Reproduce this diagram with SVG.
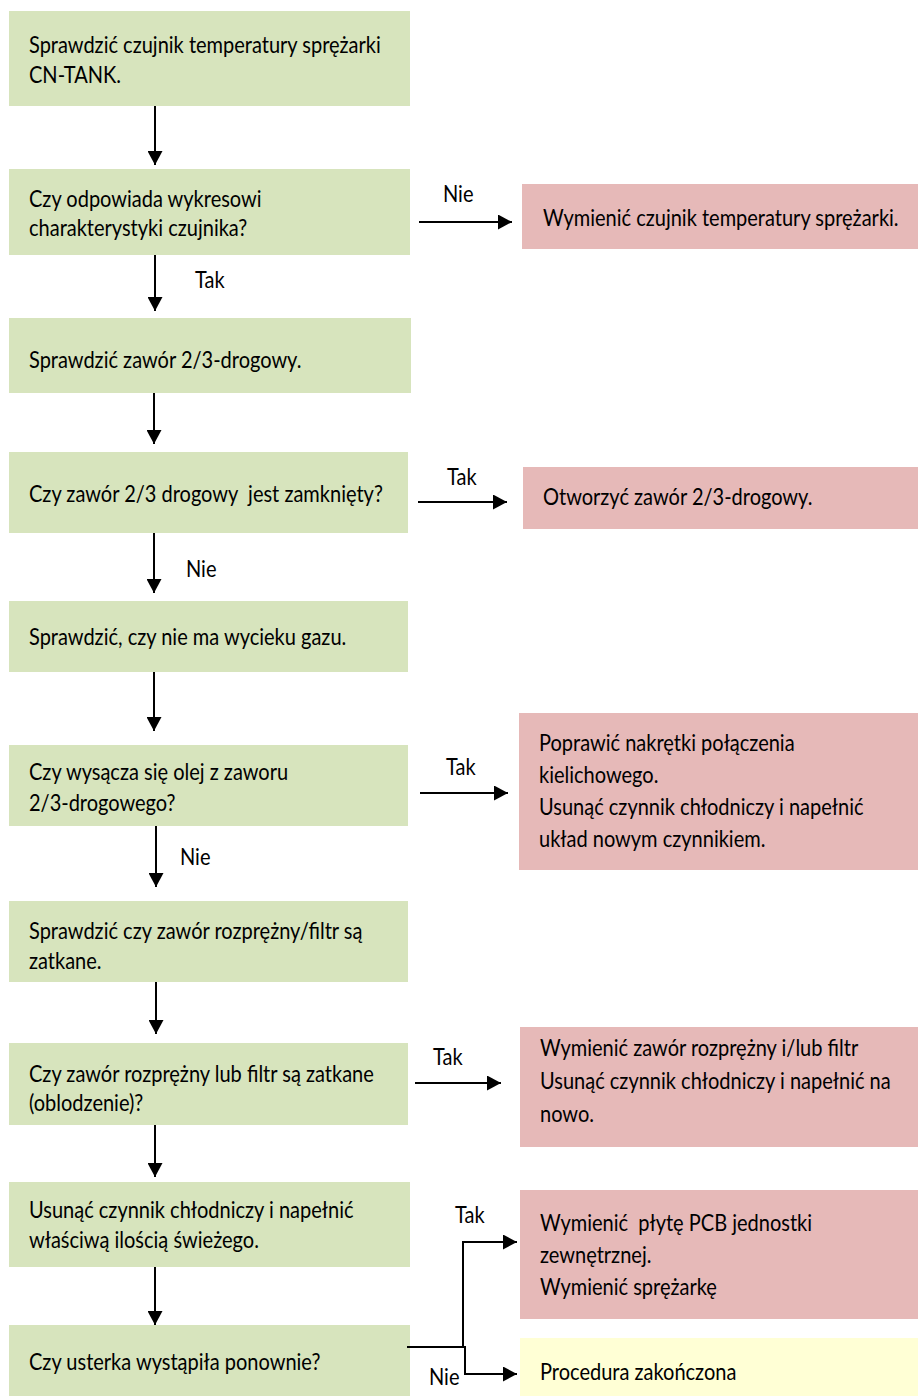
<svg xmlns="http://www.w3.org/2000/svg" width="918" height="1396" viewBox="0 0 918 1396">
<defs>
<style>
.g{fill:#D7E4BD}
.r{fill:#E6B9B8}
.y{fill:#FFFFD5}
text{font-family:Lato,"Open Sans","Liberation Sans",sans-serif;font-size:23px;fill:#000}
.c{fill:none;stroke:#000;stroke-width:2}
</style>
<marker id="ah" viewBox="0 0 14 15" refX="14" refY="7.5" markerWidth="14" markerHeight="15" markerUnits="userSpaceOnUse" orient="auto"><path d="M0,0 L14,7.5 L0,15 z" fill="#000"/></marker>
</defs>
<rect width="918" height="1396" fill="#fff"/>
<g id="n1"><rect class="g" x="9" y="11" width="401" height="95"/><text transform="translate(29,53) scale(0.87,1)"><tspan x="0" y="0">Sprawdzić czujnik temperatury sprężarki</tspan><tspan x="0" y="30">CN-TANK.</tspan></text></g>
<g id="n2"><rect class="g" x="9" y="169" width="401" height="86"/><text transform="translate(29,207) scale(0.87,1)"><tspan x="0" y="0">Czy odpowiada wykresowi</tspan><tspan x="0" y="29">charakterystyki czujnika?</tspan></text></g>
<g id="n3"><rect class="g" x="9" y="318" width="402" height="75"/><text transform="translate(29,368) scale(0.87,1)">Sprawdzić zawór 2/3-drogowy.</text></g>
<g id="n4"><rect class="g" x="9" y="452" width="399" height="81"/><text transform="translate(29,502) scale(0.87,1)" xml:space="preserve">Czy zawór 2/3 drogowy  jest zamknięty?</text></g>
<g id="n5"><rect class="g" x="9" y="601" width="399" height="71"/><text transform="translate(29,645) scale(0.87,1)">Sprawdzić, czy nie ma wycieku gazu.</text></g>
<g id="n6"><rect class="g" x="9" y="745" width="399" height="81"/><text transform="translate(29,780) scale(0.87,1)"><tspan x="0" y="0">Czy wysącza się olej z zaworu</tspan><tspan x="0" y="31">2/3-drogowego?</tspan></text></g>
<g id="n7"><rect class="g" x="9" y="901" width="399" height="81"/><text transform="translate(29,939) scale(0.87,1)"><tspan x="0" y="0">Sprawdzić czy zawór rozprężny/filtr są</tspan><tspan x="0" y="30">zatkane.</tspan></text></g>
<g id="n8"><rect class="g" x="9" y="1043" width="399" height="82"/><text transform="translate(29,1082) scale(0.87,1)"><tspan x="0" y="0">Czy zawór rozprężny lub filtr są zatkane</tspan><tspan x="0" y="29">(oblodzenie)?</tspan></text></g>
<g id="n9"><rect class="g" x="9" y="1182" width="401" height="85"/><text transform="translate(29,1218) scale(0.87,1)"><tspan x="0" y="0">Usunąć czynnik chłodniczy i napełnić</tspan><tspan x="0" y="30">właściwą ilością świeżego.</tspan></text></g>
<g id="n10"><rect class="g" x="9" y="1325" width="401" height="71"/><text transform="translate(29,1370) scale(0.87,1)">Czy usterka wystąpiła ponownie?</text></g>
<g id="r1"><rect class="r" x="522" y="184" width="396" height="65"/><text transform="translate(543,226) scale(0.87,1)">Wymienić czujnik temperatury sprężarki.</text></g>
<g id="r2"><rect class="r" x="523" y="467" width="395" height="62"/><text transform="translate(543,505) scale(0.87,1)">Otworzyć zawór 2/3-drogowy.</text></g>
<g id="r3"><rect class="r" x="519" y="713" width="399" height="157"/><text transform="translate(539,751) scale(0.87,1)"><tspan x="0" y="0">Poprawić nakrętki połączenia</tspan><tspan x="0" y="32">kielichowego.</tspan><tspan x="0" y="64">Usunąć czynnik chłodniczy i napełnić</tspan><tspan x="0" y="96">układ nowym czynnikiem.</tspan></text></g>
<g id="r4"><rect class="r" x="520" y="1027" width="398" height="120"/><text transform="translate(540,1056) scale(0.87,1)"><tspan x="0" y="0">Wymienić zawór rozprężny i/lub filtr</tspan><tspan x="0" y="33">Usunąć czynnik chłodniczy i napełnić na</tspan><tspan x="0" y="66">nowo.</tspan></text></g>
<g id="r5"><rect class="r" x="520" y="1190" width="398" height="129"/><text transform="translate(540,1231) scale(0.87,1)" xml:space="preserve"><tspan x="0" y="0">Wymienić  płytę PCB jednostki</tspan><tspan x="0" y="32">zewnętrznej.</tspan><tspan x="0" y="64">Wymienić sprężarkę</tspan></text></g>
<g id="r6"><rect class="y" x="520" y="1338" width="398" height="58"/><text transform="translate(540,1380) scale(0.87,1)">Procedura zakończona</text></g>
<g id="connectors">
<line class="c" x1="155" y1="106" x2="155" y2="165" marker-end="url(#ah)"/>
<line class="c" x1="155" y1="255" x2="155" y2="311" marker-end="url(#ah)"/>
<line class="c" x1="154" y1="393" x2="154" y2="444" marker-end="url(#ah)"/>
<line class="c" x1="154" y1="533" x2="154" y2="593" marker-end="url(#ah)"/>
<line class="c" x1="154" y1="672" x2="154" y2="731" marker-end="url(#ah)"/>
<line class="c" x1="156" y1="826" x2="156" y2="887" marker-end="url(#ah)"/>
<line class="c" x1="156" y1="982" x2="156" y2="1034" marker-end="url(#ah)"/>
<line class="c" x1="155" y1="1125" x2="155" y2="1177" marker-end="url(#ah)"/>
<line class="c" x1="155" y1="1267" x2="155" y2="1325" marker-end="url(#ah)"/>
<line class="c" x1="419" y1="222" x2="512" y2="222" marker-end="url(#ah)"/>
<line class="c" x1="418" y1="502" x2="507" y2="502" marker-end="url(#ah)"/>
<line class="c" x1="420" y1="793" x2="508" y2="793" marker-end="url(#ah)"/>
<line class="c" x1="415" y1="1083" x2="501" y2="1083" marker-end="url(#ah)"/>
<polyline class="c" points="407,1347 463,1347 463,1242 517,1242" marker-end="url(#ah)"/>
<polyline class="c" points="463,1347 465,1347 465,1374 517,1374" marker-end="url(#ah)"/>
<g id="labels">
<text transform="translate(195,288) scale(0.87,1)">Tak</text>
<text transform="translate(443,202) scale(0.87,1)">Nie</text>
<text transform="translate(447,485) scale(0.87,1)">Tak</text>
<text transform="translate(186,577) scale(0.87,1)">Nie</text>
<text transform="translate(446,775) scale(0.87,1)">Tak</text>
<text transform="translate(180,865) scale(0.87,1)">Nie</text>
<text transform="translate(433,1065) scale(0.87,1)">Tak</text>
<text transform="translate(455,1223) scale(0.87,1)">Tak</text>
<text transform="translate(429,1385) scale(0.87,1)">Nie</text>
</g>
</g>
</svg>
